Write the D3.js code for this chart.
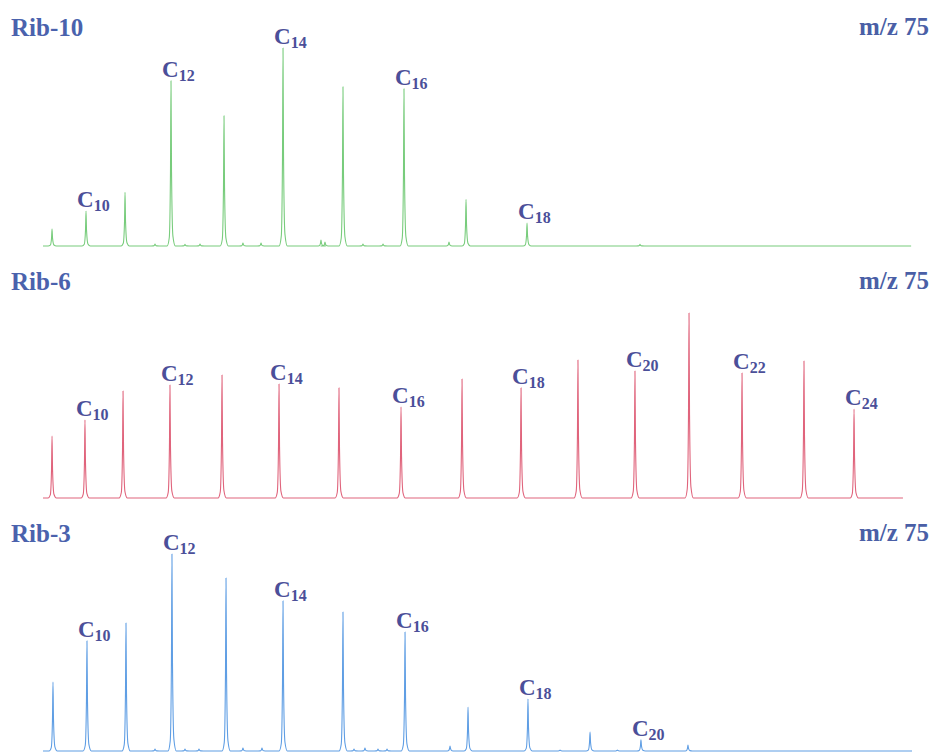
<!DOCTYPE html>
<html>
<head>
<meta charset="utf-8">
<script src="https://cdn.jsdelivr.net/npm/d3@7"></script>
<style>
  html, body { margin: 0; padding: 0; background: #ffffff; }
  svg { display: block; }
</style>
</head>
<body>
<svg id="chart" width="933" height="753"></svg>
<script>
// m/z 75 mass chromatograms of three samples (relative intensity, %)
const sampleNames = ["Rib-10", "Rib-6", "Rib-3"];
const ionLabel = "m/z 75";

// Rib-10: carbon numbers, retention positions, intensities
const rib10Carbons = [9, 10, 11, 12, 13, 14, 15, 16, 17, 18];
const rib10Times   = [1.04, 4.95, 9.44, 14.73, 20.83, 27.62, 34.52, 41.54, 48.68, 55.70];
const rib10Heights = [8.5, 17.6, 27.1, 83.4, 65.8, 100, 80.4, 79.4, 23.6, 11.6];
const rib10MinorTimes   = [12.89, 16.34, 18.07, 23.01, 25.09, 31.99, 32.45, 36.82, 39.13, 46.72, 68.70];
const rib10MinorHeights = [1.0, 0.8, 1.0, 1.5, 1.5, 3.0, 2.0, 1.0, 1.0, 2.0, 0.8];
const rib10Labeled = [10, 12, 14, 16, 18];
const rib10Range = [0, 99.9];

// Rib-6
const rib6Carbons = [9, 10, 11, 12, 13, 14, 15, 16, 17, 18, 19, 20, 21, 22, 23, 24];
const rib6Times   = [1.04, 4.83, 9.21, 14.61, 20.60, 27.16, 34.06, 41.20, 48.22, 55.01, 61.56, 68.12, 74.34, 80.44, 87.57, 93.33];
const rib6Heights = [31.3, 39.4, 54.0, 57.1, 62.1, 57.6, 55.6, 46.0, 60.1, 55.6, 69.7, 64.1, 93.4, 63.1, 69.2, 44.9];
const rib6MinorTimes   = [];
const rib6MinorHeights = [];
const rib6Labeled = [10, 12, 14, 16, 18, 20, 22, 24];
const rib6Range = [0, 98.96];

// Rib-3
const rib3Carbons = [9, 10, 11, 12, 13, 14, 15, 16, 17, 18, 19, 20, 21];
const rib3Times   = [1.15, 5.06, 9.55, 14.84, 21.06, 27.62, 34.52, 41.66, 48.91, 55.81, 62.95, 68.81, 74.22];
const rib3Heights = [34.8, 55.6, 64.6, 99.5, 87.4, 75.8, 70.2, 60.1, 22.2, 26.3, 9.6, 5.6, 3.0];
const rib3MinorTimes   = [12.89, 16.34, 17.95, 23.01, 25.20, 35.79, 37.05, 38.55, 39.59, 46.84, 59.50, 66.10];
const rib3MinorHeights = [1.0, 1.0, 1.0, 1.5, 1.5, 1.0, 1.5, 1.0, 1.0, 2.5, 0.5, 0.5];
const rib3Labeled = [10, 12, 14, 16, 18, 20];
const rib3Range = [0, 100];

const traceColors = ["#78cc7c", "#e0647c", "#5f9ee4"];

const panels = [
  { name: sampleNames[0], carbons: rib10Carbons, times: rib10Times, heights: rib10Heights,
    minorTimes: rib10MinorTimes, minorHeights: rib10MinorHeights, labeled: rib10Labeled,
    range: rib10Range, color: traceColors[0], baseline: 246, titleY: 36 },
  { name: sampleNames[1], carbons: rib6Carbons, times: rib6Times, heights: rib6Heights,
    minorTimes: rib6MinorTimes, minorHeights: rib6MinorHeights, labeled: rib6Labeled,
    range: rib6Range, color: traceColors[1], baseline: 498, titleY: 290 },
  { name: sampleNames[2], carbons: rib3Carbons, times: rib3Times, heights: rib3Heights,
    minorTimes: rib3MinorTimes, minorHeights: rib3MinorHeights, labeled: rib3Labeled,
    range: rib3Range, color: traceColors[2], baseline: 751, titleY: 542 }
];

const svg = d3.select("#chart");
const x = d3.scaleLinear().domain([0, 100]).range([43, 912]);
const panelHeight = 198;

// profile of a single chromatographic peak: offsets (time units) and fraction of apex height
const shapeOffsets   = [-0.45, -0.2, -0.06, 0, 0.06, 0.22, 0.5];
const shapeFractions = [0, 0.05, 0.45, 1, 0.45, 0.06, 0];

const serif = "'Liberation Serif', 'Times New Roman', 'DejaVu Serif', serif";

panels.forEach(p => {
  const y = d3.scaleLinear().domain([0, 100]).range([p.baseline, p.baseline - panelHeight]);

  const peaks = p.times.map((t, i) => ({ t, h: p.heights[i] }))
    .concat(p.minorTimes.map((t, i) => ({ t, h: p.minorHeights[i] })))
    .sort((a, b) => a.t - b.t);

  const pts = [[p.range[0], 0]];
  peaks.forEach(pk => {
    shapeOffsets.forEach((o, k) => pts.push([pk.t + o, pk.h * shapeFractions[k]]));
  });
  pts.push([p.range[1], 0]);

  const line = d3.line()
    .x(d => x(d[0]))
    .y(d => y(d[1]))
    .curve(d3.curveMonotoneX);

  svg.append("path")
    .datum(pts)
    .attr("d", line)
    .attr("fill", "none")
    .attr("stroke", p.color)
    .attr("stroke-width", 1.1)
    .attr("stroke-linejoin", "round");

  // sample name and ion
  svg.append("text")
    .attr("x", 11).attr("y", p.titleY)
    .attr("font-family", serif).attr("font-weight", "bold")
    .attr("font-size", 25).attr("fill", "#4a62ad")
    .text(p.name);
  svg.append("text")
    .attr("x", 929).attr("y", p.titleY - 1)
    .attr("text-anchor", "end")
    .attr("font-family", serif).attr("font-weight", "bold")
    .attr("font-size", 25).attr("fill", "#4a5fa6")
    .text(ionLabel);

  // carbon-number labels above the even n-alkyl peaks
  const labels = p.labeled.map(c => {
    const i = p.carbons.indexOf(c);
    return { c, t: p.times[i], h: p.heights[i] };
  });
  const lab = svg.append("g").selectAll("text")
    .data(labels).join("text")
    .attr("x", d => x(d.t) - 9)
    .attr("y", d => y(d.h) - 4)
    .attr("font-family", serif).attr("font-weight", "bold")
    .attr("fill", "#4b4f99");
  lab.append("tspan").attr("font-size", 23).text("C");
  lab.append("tspan").attr("font-size", 16).attr("dy", 4).text(d => d.c);
});
</script>
</body>
</html>
